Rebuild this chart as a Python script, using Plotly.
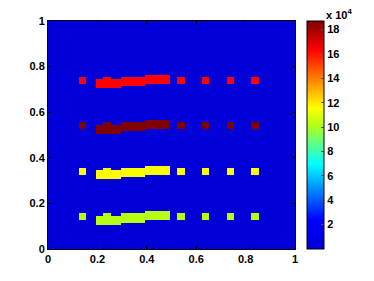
import plotly.graph_objects as go
import numpy as np

# grid of the image (cell centres, step 0.01)
grid = np.round(np.arange(101) * 0.01, 2)

# four rows of blocks, one value per row
row_y = [0.14, 0.34, 0.54, 0.74]
row_value = [102000, 116000, 187000, 163000]

# small 3x3 squares along each row
square_x = [0.14, 0.24, 0.34, 0.44, 0.54, 0.64, 0.74, 0.84]

# thick band segments: x start, x end, y offset low, y offset high (from row centre)
band_x0 = [0.20, 0.30, 0.40]
band_x1 = [0.29, 0.39, 0.49]
band_lo = [-0.03, -0.02, -0.01]
band_hi = [0.00, 0.01, 0.02]

background = 0
z_max = 187000

cbar_ticks = [20000, 40000, 60000, 80000, 100000, 120000, 140000, 160000, 180000]
cbar_text = ["2", "4", "6", "8", "10", "12", "14", "16", "18"]

# %%
z = np.full((len(grid), len(grid)), background, dtype=float)


def fill(x0, x1, y0, y1, v):
    xi = (grid >= x0 - 1e-9) & (grid <= x1 + 1e-9)
    yi = (grid >= y0 - 1e-9) & (grid <= y1 + 1e-9)
    z[np.ix_(yi, xi)] = v


for yc, v in zip(row_y, row_value):
    for x0, x1, lo, hi in zip(band_x0, band_x1, band_lo, band_hi):
        fill(x0, x1, yc + lo, yc + hi, v)
    for xc in square_x:
        fill(xc - 0.01, xc + 0.01, yc - 0.01, yc + 0.01, v)

# jet-like map, as seen on the reference colorbar
jet = [
    [0.0, "rgb(0,0,215)"],
    [0.127, "rgb(0,0,255)"],
    [0.373, "rgb(0,255,255)"],
    [0.545, "rgb(180,255,20)"],
    [0.619, "rgb(255,255,0)"],
    [0.873, "rgb(255,0,0)"],
    [1.0, "rgb(128,0,0)"],
]

tick_font = dict(family="Liberation Sans", size=11, color="black", weight="bold")

fig = go.Figure()
fig.add_trace(
    go.Heatmap(
        x=grid,
        y=grid,
        z=z,
        zmin=0,
        zmax=z_max,
        colorscale=jet,
        zsmooth=False,
        hoverinfo="skip",
        colorbar=dict(
            x=1.049,
            xanchor="left",
            xpad=0,
            y=0.5,
            len=1,
            ypad=0,
            thickness=17,
            outlinecolor="black",
            outlinewidth=1,
            tickvals=cbar_ticks,
            ticktext=cbar_text,
            ticks="inside",
            ticklen=3,
            tickcolor="#555",
            tickfont=tick_font,
        ),
    )
)

axis = dict(
    range=[0, 1],
    tickvals=[0, 0.2, 0.4, 0.6, 0.8, 1],
    ticktext=["0", "0.2", "0.4", "0.6", "0.8", "1"],
    ticks="inside",
    ticklen=3,
    tickcolor="black",
    showline=True,
    linecolor="black",
    linewidth=1,
    mirror="allticks",
    showgrid=False,
    zeroline=False,
    automargin=False,
    tickfont=tick_font,
)

# page body has an 8px margin, so the figure is a bit smaller than the window
fig.update_layout(
    width=366,
    height=273,
    margin=dict(l=40, r=79, t=13, b=32, autoexpand=False),
    paper_bgcolor="white",
    plot_bgcolor="white",
    xaxis=axis,
    yaxis=axis,
    showlegend=False,
    annotations=[
        dict(
            text="x 10<sup>4</sup>",
            xref="paper",
            yref="paper",
            x=1.118,
            y=1.0,
            xanchor="left",
            yanchor="bottom",
            showarrow=False,
            font=tick_font,
            yshift=-2,
        )
    ],
)

fig.write_html("out.html")
